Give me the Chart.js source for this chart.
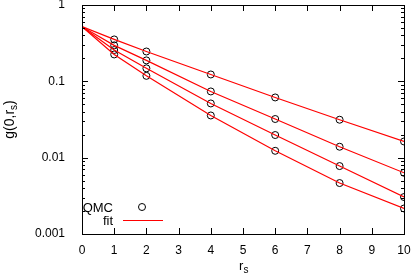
<!DOCTYPE html>
<html>
<head>
<meta charset="utf-8">
<script src="https://cdn.jsdelivr.net/npm/chart.js@4/dist/chart.umd.min.js"></script>
<style>
  html, body { margin: 0; padding: 0; background: #fff; }
  #wrap { width: 415px; height: 277px; }
</style>
</head>
<body>
<div id="wrap"><canvas id="myChart"></canvas></div>
<script>
// r_s values of the QMC points and of the fit curves
var rsQmc = [1, 2, 4, 6, 8, 10];
var rsFit = [0, 1, 2, 4, 6, 8, 10];
// QMC g(0,r_s), one list per curve (top to bottom)
var qmcA = [0.354, 0.246, 0.123, 0.0615, 0.0314, 0.0163];
var qmcB = [0.296, 0.188, 0.0737, 0.0321, 0.0139, 0.00634];
var qmcC = [0.257, 0.148, 0.0513, 0.0198, 0.00776, 0.00305];
var qmcD = [0.225, 0.118, 0.0357, 0.0123, 0.00465, 0.00216];
// fit curves
var fitA = [0.52, 0.354, 0.246, 0.123, 0.0615, 0.0314, 0.0163];
var fitB = [0.52, 0.296, 0.188, 0.0737, 0.0321, 0.0139, 0.00634];
var fitC = [0.52, 0.257, 0.148, 0.0513, 0.0198, 0.00776, 0.00305];
var fitD = [0.52, 0.225, 0.118, 0.0357, 0.0123, 0.00465, 0.00216];
// tick labels
var xTicks = [0, 1, 2, 3, 4, 5, 6, 7, 8, 9, 10];
var yTicks = [0.001, 0.01, 0.1, 1];

function pts(xs, ys) {
  return xs.map(function (x, i) { return { x: x, y: ys[i] }; });
}

var FONT = '"Liberation Sans", Arial, sans-serif';

function fitSet(ys) {
  return { data: pts(rsFit, ys), borderColor: "#ff0000", borderWidth: 1.2,
           pointRadius: 0, fill: false, tension: 0 };
}
function qmcSet(ys) {
  return { data: pts(rsQmc, ys), showLine: false, pointStyle: "circle",
           pointRadius: 3.5, pointBorderWidth: 1, pointBorderColor: "#000",
           pointBackgroundColor: "rgba(0,0,0,0)" };
}

// gnuplot-like frame, inward ticks, titles and legend
var frame = {
  id: "frame",
  afterDraw: function (chart) {
    var c = chart.ctx, a = chart.chartArea;
    var xs = chart.scales.x, ys = chart.scales.y;
    c.save();
    c.strokeStyle = "#000";
    c.lineWidth = 1;
    c.beginPath();
    xTicks.forEach(function (t) {
      var px = Math.round(xs.getPixelForValue(t)) + 0.5;
      c.moveTo(px, a.bottom); c.lineTo(px, a.bottom - 6);
      c.moveTo(px, a.top); c.lineTo(px, a.top + 6);
    });
    for (var d = 0; d < yTicks.length; d++) {
      for (var m = 1; m <= 9; m++) {
        var v = yTicks[d] * m;
        if (v > 1) break;
        var py = Math.round(ys.getPixelForValue(v)) + 0.5;
        var len = m === 1 ? 6 : 3;
        c.moveTo(a.left, py); c.lineTo(a.left + len, py);
        c.moveTo(a.right, py); c.lineTo(a.right - len, py);
      }
    }
    c.stroke();
    c.strokeRect(Math.round(a.left) + 0.5, Math.round(a.top) + 0.5,
                 Math.round(a.right - a.left), Math.round(a.bottom - a.top));

    c.fillStyle = "#000";
    c.textBaseline = "middle";
    // x title r_s
    var cx = (a.left + a.right) / 2;
    c.font = "13px " + FONT;
    c.textAlign = "left";
    c.fillText("r", cx - 4, 266);
    c.font = "10px " + FONT;
    c.fillText("s", cx + 0.5, 270);
    // y title g(0,r_s)
    c.save();
    c.translate(10, (a.top + a.bottom) / 2);
    c.rotate(-Math.PI / 2);
    c.font = "14px " + FONT;
    var w1 = c.measureText("g(0,r").width;
    c.font = "10px " + FONT;
    var w2 = c.measureText("s").width;
    c.font = "14px " + FONT;
    var w3 = c.measureText(")").width;
    var x0 = -(w1 + w2 + w3) / 2;
    c.fillText("g(0,r", x0, 0);
    c.font = "10px " + FONT;
    c.fillText("s", x0 + w1, 4);
    c.font = "14px " + FONT;
    c.fillText(")", x0 + w1 + w2, 0);
    c.restore();

    // legend
    c.font = "13px " + FONT;
    c.textAlign = "right";
    c.fillText("QMC", 113, 208);
    c.fillText("fit", 113, 221);
    c.beginPath();
    c.arc(142, 207, 3.5, 0, Math.PI * 2);
    c.stroke();
    c.strokeStyle = "#ff0000";
    c.lineWidth = 1.2;
    c.beginPath();
    c.moveTo(123, 220.5); c.lineTo(163, 220.5);
    c.stroke();
    c.restore();
  }
};

var ctx = document.getElementById("myChart");
var myChart = new Chart(ctx, {
  type: "line",
  data: {
    datasets: [
      fitSet(fitA), fitSet(fitB), fitSet(fitC), fitSet(fitD),
      qmcSet(qmcA), qmcSet(qmcB), qmcSet(qmcC), qmcSet(qmcD)
    ]
  },
  options: {
    responsive: true,
    maintainAspectRatio: false,
    animation: false,
    layout: { padding: { left: 0, right: 11, top: 5, bottom: 0 } },
    plugins: { legend: { display: false }, tooltip: { enabled: false } },
    scales: {
      x: {
        type: "linear", min: 0, max: 10,
        grid: { display: false },
        border: { display: false },
        afterFit: function (s) { s.height = 43; s.paddingLeft = 0; s.paddingRight = 0; },
        afterBuildTicks: function (s) { s.ticks = xTicks.map(function (v) { return { value: v }; }); },
        ticks: { color: "#000", padding: 1, maxRotation: 0, autoSkip: false,
                 font: { family: FONT, size: 12 } }
      },
      y: {
        type: "logarithmic", min: 0.001, max: 1,
        grid: { display: false },
        border: { display: false },
        afterFit: function (s) { s.width = 82; s.paddingTop = 0; s.paddingBottom = 0; },
        afterBuildTicks: function (s) { s.ticks = yTicks.map(function (v) { return { value: v }; }); },
        ticks: { color: "#000", padding: 9, autoSkip: false,
                 font: { family: FONT, size: 12 },
                 callback: function (v) { return String(v); } }
      }
    }
  },
  plugins: [frame]
});
</script>
</body>
</html>
